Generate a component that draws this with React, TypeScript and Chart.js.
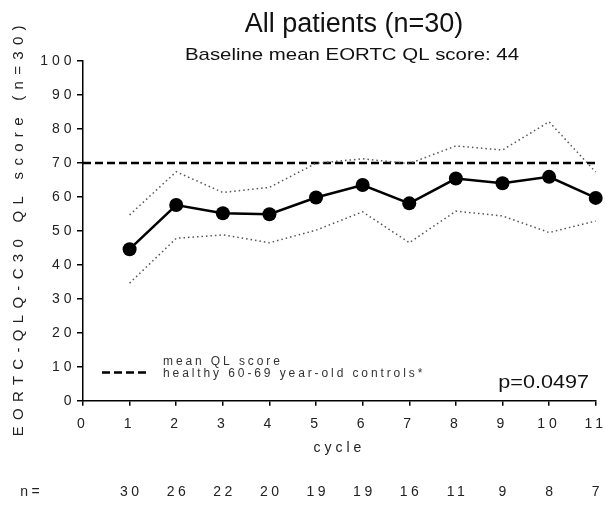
import React, { useEffect, useRef } from 'react';
import { Chart, registerables } from 'chart.js';
Chart.register(...registerables);

const cycles = [1, 2, 3, 4, 5, 6, 7, 8, 9, 10, 11];
const meanQL = [44.6, 57.6, 55.2, 54.9, 59.8, 63.5, 58.1, 65.4, 64.0, 65.9, 59.7];
const upperCI = [54.7, 67.4, 61.3, 62.8, 69.9, 71.2, 69.8, 75.0, 73.8, 82.1, 67.3];
const lowerCI = [34.6, 47.8, 48.8, 46.5, 50.2, 55.6, 46.5, 55.8, 54.4, 49.5, 52.9];
const patientsN = [30, 26, 22, 20, 19, 19, 16, 11, 9, 8, 7];
const controlX = [0, 11];
const controlMean = 70;

const titleText = 'All patients (n=30)';
const subtitleText = 'Baseline mean EORTC QL score: 44';
const yTitleText = 'EORTC-QLQ-C30 QL score (n=30)';
const xTitleText = 'cycle';
const legendLines = ['mean QL score', 'healthy 60-69 year-old controls*'];
const pValueText = 'p=0.0497';

const FONT = "'Liberation Sans', Arial, Helvetica, sans-serif";

function spacedText(ctx: CanvasRenderingContext2D, text: string, x: number, y: number, ls: number, align: CanvasTextAlign, sx = 1) {
  ctx.save();
  ctx.letterSpacing = ls + 'px';
  ctx.textAlign = align;
  const dx = align === 'center' ? ls / 2 : align === 'right' ? ls : 0;
  ctx.translate(x + dx, y);
  ctx.scale(sx, 1);
  ctx.fillText(text, 0, 0);
  ctx.restore();
}

const textPlugin = {
  id: 'customText',
  beforeDraw(chart: any) {
    chart.ctx.letterSpacing = '4px';
  },
  afterDraw(chart: any) {
    const ctx: CanvasRenderingContext2D = chart.ctx;
    const xs = chart.scales.x;
    ctx.save();
    ctx.letterSpacing = '0px';
    ctx.textBaseline = 'alphabetic';
    ctx.fillStyle = '#111';
    ctx.font = `27px ${FONT}`;
    spacedText(ctx, titleText, 354, 32, 0, 'center');
    ctx.font = `17px ${FONT}`;
    spacedText(ctx, subtitleText, 352, 60, 0, 'center', 1.2);
    ctx.font = `18px ${FONT}`;
    spacedText(ctx, pValueText, 589, 388, 0, 'right', 1.2);

    ctx.fillStyle = '#333';
    ctx.font = `12px ${FONT}`;
    spacedText(ctx, legendLines[0], 163, 365, 2.9, 'left');
    spacedText(ctx, legendLines[1], 163, 377, 2.9, 'left');

    ctx.strokeStyle = '#000';
    ctx.lineWidth = 2.5;
    ctx.setLineDash([8, 4]);
    ctx.beginPath();
    ctx.moveTo(102, 372.5);
    ctx.lineTo(146, 372.5);
    ctx.stroke();
    ctx.setLineDash([]);

    ctx.textBaseline = 'middle';
    ctx.fillStyle = '#222';
    ctx.font = `14px ${FONT}`;
    spacedText(ctx, 'n=', 30, 492, 3.5, 'center');
    cycles.forEach((c, i) => {
      spacedText(ctx, String(patientsN[i]), xs.getPixelForValue(c), 492, 3.5, 'center');
    });

    ctx.save();
    ctx.translate(19, (chart.chartArea.top + chart.chartArea.bottom) / 2);
    ctx.rotate(-Math.PI / 2);
    ctx.font = `15px ${FONT}`;
    spacedText(ctx, yTitleText, 0, 0, 6.3, 'center');
    ctx.restore();

    ctx.restore();
    ctx.letterSpacing = '0px';
  },
};

export default function App() {
  const ref = useRef<HTMLCanvasElement>(null);
  useEffect(() => {
    if (!ref.current) return;
    const pts = (arr: number[]) => cycles.map((c, i) => ({ x: c, y: arr[i] }));
    const chart = new Chart(ref.current, {
      type: 'line',
      data: {
        datasets: [
          {
            label: 'mean',
            data: pts(meanQL),
            borderColor: '#000',
            backgroundColor: '#000',
            borderWidth: 2.5,
            pointRadius: 7,
            pointBorderWidth: 0,
            pointBackgroundColor: '#000',
            clip: false as any,
          },
          {
            label: 'upper',
            data: pts(upperCI),
            borderColor: '#555',
            borderWidth: 1.5,
            borderDash: [1.5, 3],
            pointRadius: 0,
            clip: false as any,
          },
          {
            label: 'lower',
            data: pts(lowerCI),
            borderColor: '#555',
            borderWidth: 1.5,
            borderDash: [1.5, 3],
            pointRadius: 0,
            clip: false as any,
          },
          {
            label: 'control',
            data: controlX.map((x) => ({ x, y: controlMean })),
            borderColor: '#000',
            borderWidth: 2.5,
            borderDash: [8, 4],
            pointRadius: 0,
            clip: false as any,
          },
        ],
      },
      options: {
        animation: false,
        responsive: true,
        maintainAspectRatio: false,
        layout: { padding: { top: 61, right: 9.3, bottom: 52.3, left: 0 } },
        plugins: { legend: { display: false }, tooltip: { enabled: false }, title: { display: false } },
        scales: {
          x: {
            type: 'linear',
            min: 0,
            max: 11,
            position: 'bottom',
            afterFit: (s: any) => { s.height = 58; s.paddingLeft = 0; s.paddingRight = 0; },
            ticks: { stepSize: 1, font: { family: FONT, size: 14 }, color: '#222', padding: 10, maxRotation: 0 },
            grid: { drawOnChartArea: false, drawTicks: true, tickLength: 5, color: '#000', lineWidth: 1.5 },
            border: { color: '#000', width: 1.5 },
            title: { display: true, text: xTitleText, font: { family: FONT, size: 14 }, color: '#222', padding: { top: 4, bottom: 2.6 } },
          },
          y: {
            min: 0,
            max: 100,
            afterFit: (s: any) => { s.width = 83; s.paddingTop = 0; s.paddingBottom = 0; },
            ticks: { stepSize: 10, font: { family: FONT, size: 14 }, color: '#222', padding: 1.5 },
            grid: { drawOnChartArea: false, drawTicks: true, tickLength: 6, color: '#000', lineWidth: 1.5 },
            border: { color: '#000', width: 1.5 },
          },
        },
      },
      plugins: [textPlugin],
    });
    return () => chart.destroy();
  }, []);
  return (
    <div style={{ position: 'absolute', left: 0, top: 0, width: 605, height: 511 }}>
      <canvas ref={ref} />
    </div>
  );
}
